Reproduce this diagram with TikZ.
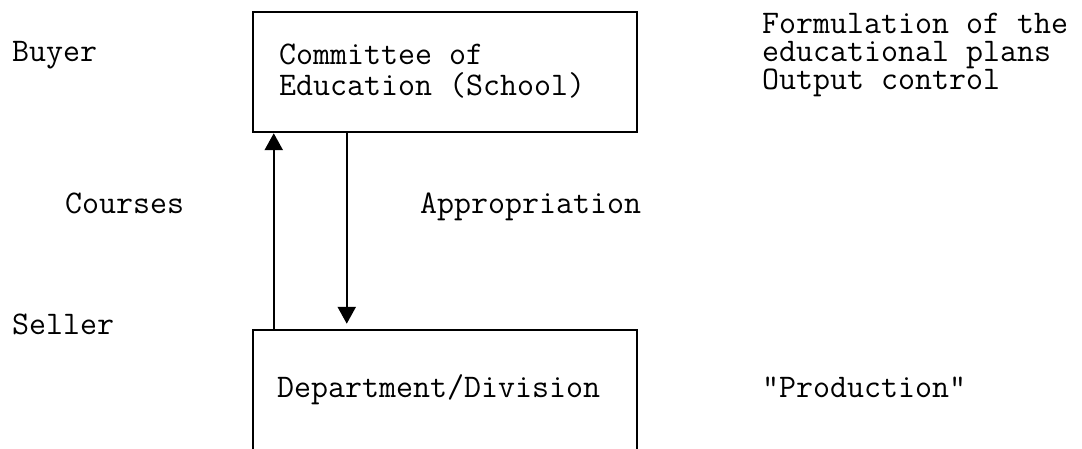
\documentclass[tikz,border=0pt]{standalone}
\usetikzlibrary{arrows.meta}
\begin{document}
\begin{tikzpicture}[x=1pt,y=-1pt,
  txt/.style={inner sep=0pt, font=\ttfamily\fontsize{33}{31}\selectfont},
  lines/.style={txt, align=left, anchor=north west},
  frame/.style={draw, line width=2.5pt, minimum width=384pt, inner sep=0pt},
  flow/.style={line width=2.5pt, -{Triangle[width=18pt,length=17pt]}}]
  % page area
  \clip (0,0) rectangle (1082,449);
  \fill[white] (0,0) rectangle (1082,449);

  % boxes
  \node[frame, minimum height=120pt] (committee) at (445,72) {};
  \node[frame, minimum height=240pt] (dept) at (445,450) {};

  % box texts
  \node[lines] (ctext) at (279,44) {Committee of\\Education (School)};
  \node[txt, anchor=base west] (dtext) at (277,397) {Department/Division};

  % flows between the two boxes
  \draw[flow] ([xshift=22pt]dept.north west) -- ([xshift=22pt]committee.south west);
  \draw[flow] ([xshift=95pt]committee.south west) -- ([xshift=95pt,yshift=5pt]dept.north west);

  % side labels
  \node[txt, anchor=base west] (buyer) at (12,62) {Buyer};
  \node[txt, anchor=base west] (courses) at (65,214) {Courses};
  \node[txt, anchor=base west] (seller) at (12,334) {Seller};
  \node[txt, anchor=base west] (approp) at (420,214) {Appropriation};
  \node[lines, font=\ttfamily\fontsize{33}{27.5}\selectfont] (tasks) at (762,13)
    {Formulation of the\\educational plans\\Output control};
  \node[txt, anchor=base west] (prod) at (762,397) {"Production"};
\end{tikzpicture}
\end{document}
